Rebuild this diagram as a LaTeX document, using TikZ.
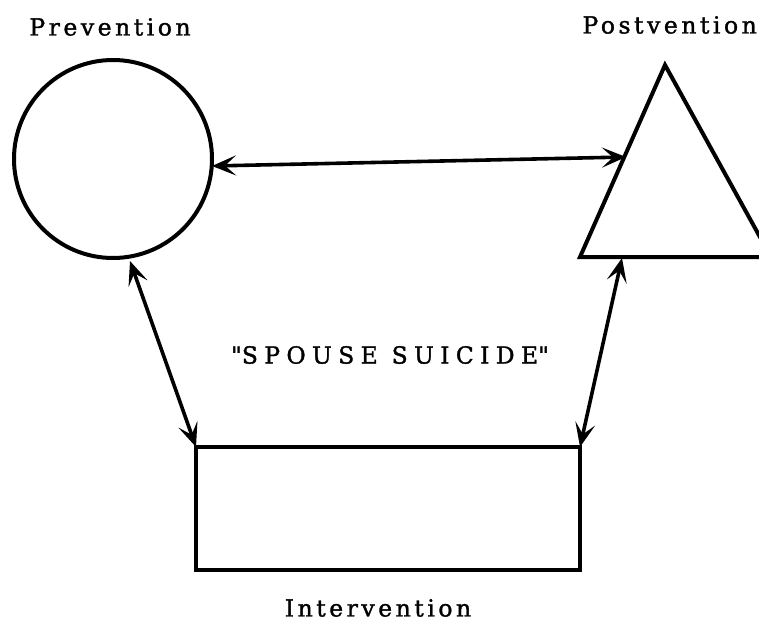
\documentclass[tikz,border=0pt]{standalone}
\usepackage{fontspec}
\setmainfont{DejaVu Serif}[LetterSpace=15,FakeBold=1.4]
\usetikzlibrary{arrows.meta}
\tikzset{
  bigtip/.tip={Stealth[length=24pt,width=20pt,inset=11pt]},
}
\begin{document}
\begin{tikzpicture}[x=1pt,y=-1pt,
  shapeline/.style={line width=4pt},
  link/.style={line width=3.6pt,bigtip-bigtip},
  lbl/.style={font=\fontsize{23.5}{26}\selectfont, inner sep=0pt}]
\useasboundingbox (0,0) rectangle (759,621);
\begin{scope}
\clip (0,0) rectangle (759,621);
% circle
\node[shapeline, draw, circle, minimum size=198pt, inner sep=0pt] (prev) at (113,159) {};
% triangle
\coordinate (tA) at (665,65);
\coordinate (tL) at (580,257);
\coordinate (tR) at (771,257);
\draw[shapeline, line join=miter] (tA) -- (tL) -- (tR) -- cycle;
% rectangle
\node[shapeline, draw, rectangle, minimum width=384pt, minimum height=123pt, inner sep=0pt] (inter) at (388,508.5) {};
% arrow end coordinates
\coordinate (p1) at (212,166);
\coordinate (t1) at (626,157);
\coordinate (p2) at (130,261);
\coordinate (r1) at (196,447);
\coordinate (t2) at (622,258);
\coordinate (r2) at (580,447);
\draw[link] (p1) -- (t1);
\draw[link] (p2) -- (r1);
\draw[link] (t2) -- (r2);
% labels
\node[lbl] (lprev) at (110,27) {Prevention};
\node[lbl, anchor=east] (lpost) at (757,25) {Postvention};
\node[lbl] (lspouse) at (390,355) {\addfontfeature{LetterSpace=27}\textquotedbl SPOUSE SUICIDE\textquotedbl};
\node[lbl] (linter) at (378,608) {Intervention};
\end{scope}
\end{tikzpicture}
\end{document}
